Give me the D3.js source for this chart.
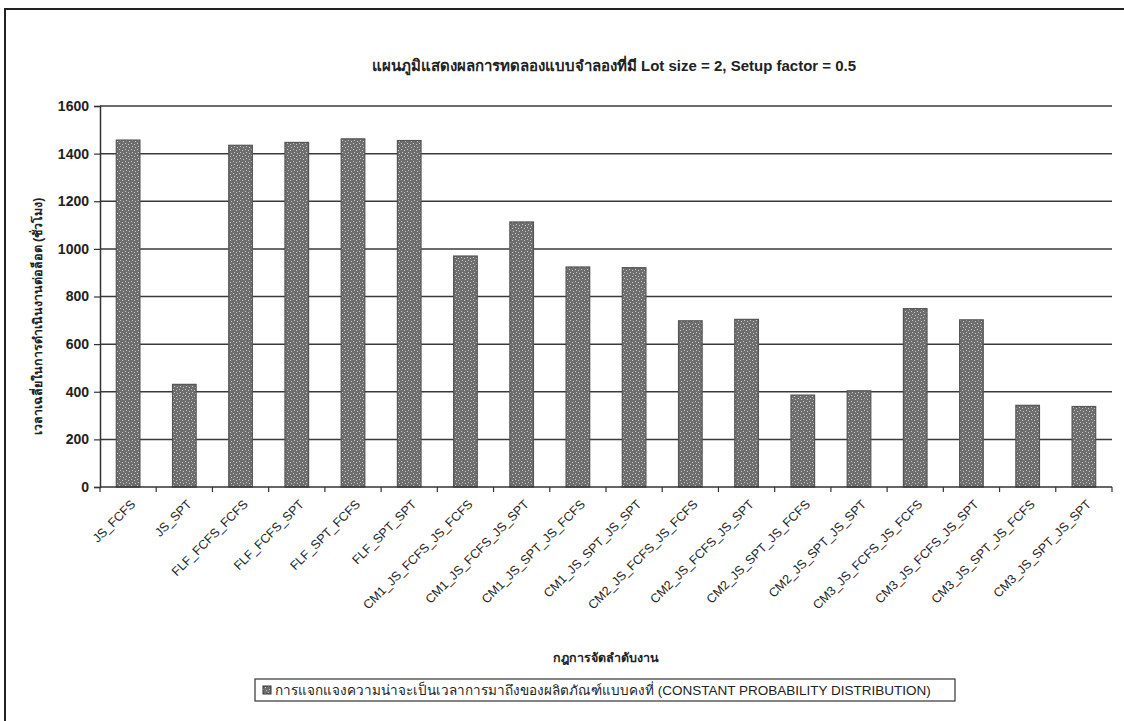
<!DOCTYPE html>
<html>
<head>
<meta charset="utf-8">
<script src="https://cdn.jsdelivr.net/npm/d3@7"></script>
<style>
  body { margin: 0; background: #fff; }
  svg { display: block; font-family: "Liberation Sans", Arial, sans-serif; }
</style>
</head>
<body>
<div id="chart"></div>
<script>
// rules on the x axis
var rules = ["JS_FCFS", "JS_SPT", "FLF_FCFS_FCFS", "FLF_FCFS_SPT", "FLF_SPT_FCFS", "FLF_SPT_SPT",
  "CM1_JS_FCFS_JS_FCFS", "CM1_JS_FCFS_JS_SPT", "CM1_JS_SPT_JS_FCFS", "CM1_JS_SPT_JS_SPT",
  "CM2_JS_FCFS_JS_FCFS", "CM2_JS_FCFS_JS_SPT", "CM2_JS_SPT_JS_FCFS", "CM2_JS_SPT_JS_SPT",
  "CM3_JS_FCFS_JS_FCFS", "CM3_JS_FCFS_JS_SPT", "CM3_JS_SPT_JS_FCFS", "CM3_JS_SPT_JS_SPT"];
// average lead time per lot (hours)
var hours = [1457, 431, 1435, 1447, 1462, 1455, 970, 1113, 924, 921, 698, 704, 386, 404, 749, 702, 343, 338];
var yTicks = [0, 200, 400, 600, 800, 1000, 1200, 1400, 1600];

var chartTitle = "แผนภูมิแสดงผลการทดลองแบบจำลองที่มี Lot size = 2, Setup factor = 0.5";
var yTitle = "เวลาเฉลี่ยในการดำเนินงานต่อล็อต (ชั่วโมง)";
var xTitle = "กฎการจัดลำดับงาน";
var legendText = "การแจกแจงความน่าจะเป็นเวลาการมาถึงของผลิตภัณฑ์แบบคงที่ (CONSTANT PROBABILITY DISTRIBUTION)";

var W = 1124, H = 721;
var margin = { top: 106, right: 12, bottom: 234, left: 100 },
  width = W - margin.left - margin.right,
  height = H - margin.top - margin.bottom;

var svg = d3.select("#chart").append("svg")
  .attr("width", W)
  .attr("height", H);

// speckled fill like the scanned bars
var defs = svg.append("defs");
var pat = defs.append("pattern")
  .attr("id", "speck")
  .attr("width", 6).attr("height", 6)
  .attr("patternUnits", "userSpaceOnUse");
pat.append("rect").attr("width", 6).attr("height", 6).attr("fill", "#6e6e6e");
[[1, 1], [4, 2], [2, 4], [5, 5]].forEach(function (p) {
  pat.append("rect").attr("x", p[0]).attr("y", p[1]).attr("width", 1).attr("height", 1).attr("fill", "#c8c8c8");
});

// outer frame (top and left edges of the scanned page)
svg.append("path")
  .attr("d", "M5," + (H + 2) + " L5,9 L" + (W + 2) + ",9")
  .attr("fill", "none")
  .attr("stroke", "#222")
  .attr("stroke-width", 2);

var g = svg.append("g")
  .attr("transform", "translate(" + margin.left + "," + margin.top + ")");

var x = d3.scaleBand()
  .domain(rules)
  .range([0, width])
  .paddingInner(0.58)
  .paddingOuter(0.29);

var y = d3.scaleLinear()
  .domain([0, 1600])
  .range([height, 0]);

// gridlines
g.append("g")
  .attr("class", "grid")
  .selectAll("line")
  .data(yTicks.slice(1))
  .enter().append("line")
  .attr("x1", 0)
  .attr("x2", width)
  .attr("y1", function (d) { return y(d); })
  .attr("y2", function (d) { return y(d); })
  .attr("stroke", "#3a3a3a")
  .attr("stroke-width", 1.5);

// bars
g.selectAll(".bar")
  .data(hours)
  .enter().append("rect")
  .attr("class", "bar")
  .attr("x", function (d, i) { return x(rules[i]); })
  .attr("y", function (d) { return y(d); })
  .attr("width", x.bandwidth())
  .attr("height", function (d) { return height - y(d); })
  .attr("fill", "url(#speck)")
  .attr("stroke", "#555")
  .attr("stroke-width", 1.2);

// y axis
var yAxis = d3.axisLeft(y).tickValues(yTicks).tickFormat(d3.format("d")).tickSize(6).tickPadding(5);
var ya = g.append("g").attr("class", "axis axis--y").call(yAxis);
ya.select(".domain").attr("stroke", "#333").attr("stroke-width", 1.5);
ya.selectAll(".tick line").attr("stroke", "#333").attr("stroke-width", 1.2);
ya.selectAll("text")
  .attr("fill", "#222")
  .style("font-family", "'Liberation Sans Narrow', 'Liberation Sans', sans-serif")
  .style("font-size", "14px")
  .style("font-weight", "bold");

// x axis: ticks sit between categories
var xa = g.append("g")
  .attr("class", "axis axis--x")
  .attr("transform", "translate(0," + height + ")");
xa.append("line")
  .attr("x1", 0).attr("x2", width)
  .attr("stroke", "#333").attr("stroke-width", 1.5);
var step = x.step();
xa.selectAll(".sep")
  .data(d3.range(rules.length + 1))
  .enter().append("line")
  .attr("class", "sep")
  .attr("x1", function (i) { return i * step; })
  .attr("x2", function (i) { return i * step; })
  .attr("y1", 0).attr("y2", 5)
  .attr("stroke", "#333").attr("stroke-width", 1.2);
xa.selectAll(".lbl")
  .data(rules)
  .enter().append("text")
  .attr("class", "lbl")
  .attr("transform", function (d) {
    return "translate(" + (x(d) + x.bandwidth() / 2 + 8) + ",18) rotate(-45)";
  })
  .attr("text-anchor", "end")
  .attr("fill", "#222")
  .style("font-size", "12.5px")
  .text(function (d) { return d; });

// titles
svg.append("text")
  .attr("x", margin.left + width / 2 + 8)
  .attr("y", 71)
  .attr("text-anchor", "middle")
  .attr("fill", "#222")
  .style("font-family", "'Liberation Sans Narrow', 'Liberation Sans', sans-serif")
  .style("font-size", "15px")
  .style("font-weight", "bold")
  .text(chartTitle);

svg.append("text")
  .attr("transform", "translate(42," + (margin.top + height / 2 + 20) + ") rotate(-90)")
  .attr("text-anchor", "middle")
  .attr("fill", "#222")
  .style("font-size", "12.5px")
  .style("font-weight", "bold")
  .text(yTitle);

svg.append("text")
  .attr("x", margin.left + width / 2)
  .attr("y", 662)
  .attr("text-anchor", "middle")
  .attr("fill", "#222")
  .style("font-size", "12.5px")
  .style("font-weight", "bold")
  .text(xTitle);

// legend
var lg = svg.append("g").attr("transform", "translate(255,679)");
lg.append("rect")
  .attr("width", 700).attr("height", 22)
  .attr("fill", "#fff")
  .attr("stroke", "#333").attr("stroke-width", 1.2);
lg.append("rect")
  .attr("x", 8).attr("y", 7).attr("width", 8).attr("height", 8)
  .attr("fill", "url(#speck)")
  .attr("stroke", "#333").attr("stroke-width", 1);
lg.append("text")
  .attr("x", 20).attr("y", 15.5)
  .attr("fill", "#222")
  .style("font-size", "13.5px")
  .text(legendText);
</script>
</body>
</html>
